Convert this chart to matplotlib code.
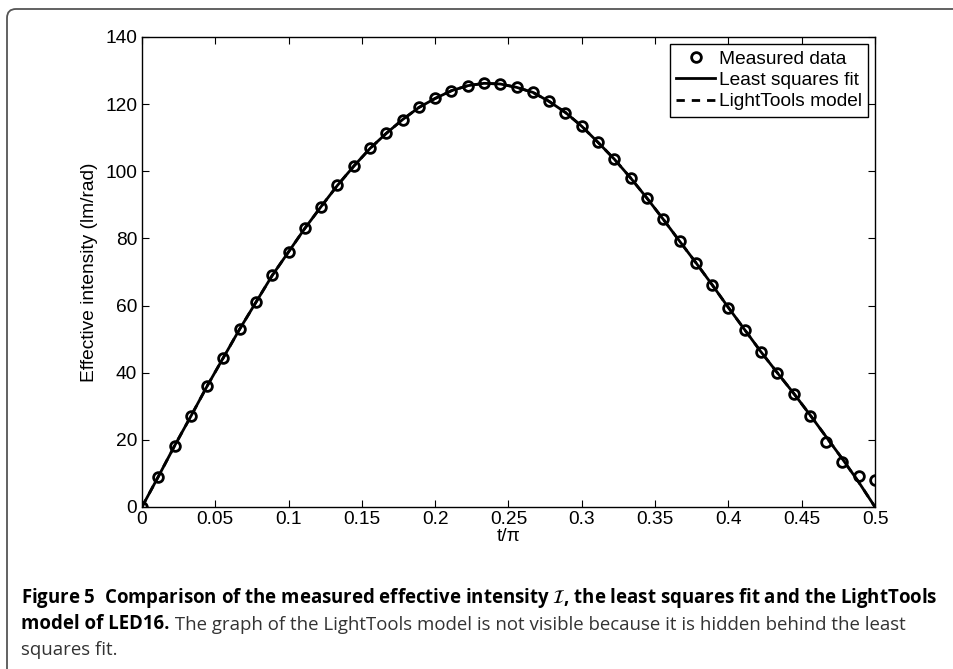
import matplotlib
matplotlib.use("Agg")
import matplotlib.pyplot as plt
from matplotlib.patches import FancyBboxPatch
from matplotlib.transforms import IdentityTransform

plt.rcParams['font.family'] = ['Liberation Sans', 'DejaVu Sans']

# t/pi sample positions (2 degree steps) and values
t_over_pi = [k / 90 for k in range(46)]
measured = [0.0, 9.0, 18.2, 27.0, 36.0, 44.5, 53.0, 61.0, 69.0, 76.0,
            83.0, 89.5, 95.8, 101.5, 106.8, 111.3, 115.4, 119.0, 121.7, 124.0,
            125.5, 126.2, 126.0, 125.0, 123.5, 120.8, 117.5, 113.4, 108.6, 103.6,
            98.0, 92.0, 85.7, 79.2, 72.8, 66.2, 59.4, 52.8, 46.1, 39.8,
            33.6, 27.0, 19.4, 13.3, 9.2, 7.9]
fit = [0.0, 9.0, 18.2, 27.0, 36.0, 44.5, 53.0, 61.0, 69.0, 76.0,
       83.0, 89.5, 95.8, 101.5, 106.8, 111.3, 115.4, 119.0, 121.7, 124.0,
       125.5, 126.2, 126.0, 125.0, 123.5, 120.8, 117.5, 113.4, 108.6, 103.6,
       98.0, 92.0, 85.7, 79.2, 72.8, 66.2, 59.4, 52.8, 46.2, 40.0,
       33.9, 27.5, 20.9, 14.3, 7.4, 0.0]
lighttools = fit

x_ticks = [0, 0.05, 0.1, 0.15, 0.2, 0.25, 0.3, 0.35, 0.4, 0.45, 0.5]
x_ticklabels = ['0', '0.05', '0.1', '0.15', '0.2', '0.25', '0.3', '0.35',
                '0.4', '0.45', '0.5']
y_ticks = [0, 20, 40, 60, 80, 100, 120, 140]

fig = plt.figure(figsize=(9.54, 6.69), dpi=100)
ax = fig.add_axes([0.1488, 0.2422, 0.7684, 0.7025])

ax.plot(t_over_pi, measured, linestyle='none', marker='o', markersize=7,
        markerfacecolor='none', markeredgecolor='black', markeredgewidth=2,
        label='Measured data', zorder=3)
ax.plot(t_over_pi, fit, color='black', linewidth=2, label='Least squares fit', zorder=2)
ax.plot(t_over_pi, lighttools, color='black', linewidth=2, linestyle=(0, (3, 2.5)),
        label='LightTools model', zorder=1)

ax.set_xlim(0, 0.5)
ax.set_ylim(0, 140)
ax.set_xticks(x_ticks)
ax.set_xticklabels(x_ticklabels)
ax.set_yticks(y_ticks)
ax.tick_params(direction='in', top=True, right=True, length=5, width=0.8,
               labelsize=13.8, colors='black')
ax.tick_params(axis='x', pad=3)
ax.tick_params(axis='y', pad=3.5)
for s in ax.spines.values():
    s.set_linewidth(1.0)

ax.set_xlabel('t/\u03c0', fontsize=13.8, labelpad=0)
ax.set_ylabel('Effective intensity (lm/rad)', fontsize=13.8, labelpad=5)

leg = ax.legend(loc='upper right', fontsize=13.8, frameon=True, fancybox=False,
                edgecolor='black', framealpha=1, handlelength=2.0,
                handletextpad=0.2, borderpad=0.35, labelspacing=0.2,
                borderaxespad=0.35)
leg.get_frame().set_linewidth(1.0)

# panel border (top and left with rounded corner)
frame = FancyBboxPatch((7, -30), 1000, 669 - 9 + 30,
                       boxstyle='round,pad=0,rounding_size=9',
                       transform=IdentityTransform(), fill=False,
                       edgecolor='#555555', linewidth=1.3)
fig.patches.append(frame)

cap_font = ['Open Sans', 'DejaVu Sans']
cap_size = 13.4
fig.text(21 / 954, 1 - 603 / 669,
         'Figure 5  Comparison of the measured effective intensity $\\mathcal{I}$, '
         'the least squares fit and the LightTools',
         fontsize=cap_size, fontweight='bold', family=cap_font,
         ha='left', va='baseline', color='black')
t2 = fig.text(21 / 954, 1 - 629 / 669, 'model of LED16.',
              fontsize=cap_size, fontweight='bold', family=cap_font,
              ha='left', va='baseline', color='black')
fig.text(21 / 954, 1 - 655 / 669, 'squares fit.',
         fontsize=cap_size, family=cap_font, ha='left', va='baseline', color='#333333')
plt.annotate(' The graph of the LightTools model is not visible because it is hidden behind the least',
             xy=(1, 0), xycoords=t2, xytext=(0, 0), textcoords='offset points',
             fontsize=cap_size, family=cap_font, ha='left', va='bottom', color='#333333',
             annotation_clip=False)

fig.savefig('out.png', dpi=100)
